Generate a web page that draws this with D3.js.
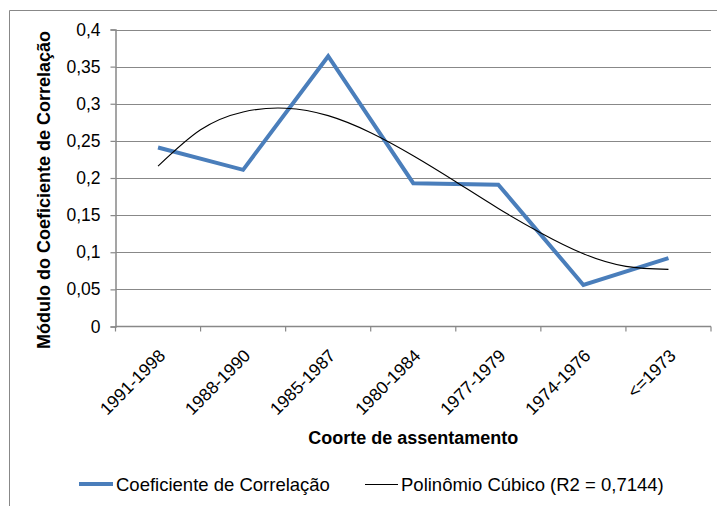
<!DOCTYPE html>
<html>
<head>
<meta charset="utf-8">
<script src="https://cdn.jsdelivr.net/npm/d3@7"></script>
<style>
  body { margin: 0; background: #fff; }
  svg { display: block; font-family: "Liberation Sans", Arial, sans-serif; }
</style>
</head>
<body>
<div id="chart"></div>
<script>
// data
const categories = ['1991-1998', '1988-1990', '1985-1987', '1980-1984', '1977-1979', '1974-1976', '<=1973'];
const coefValues = [0.241, 0.211, 0.364, 0.193, 0.191, 0.056, 0.092];

// cubic trendline at category positions (1 = first category)
const trendPos = [1, 1.5, 2, 2.5, 3, 3.5, 4, 4.5, 5, 5.5, 6, 6.5, 7];
const trendValues = [0.216, 0.265, 0.289, 0.294, 0.284, 0.261, 0.230, 0.195, 0.159, 0.126, 0.098, 0.081, 0.077];

const yTicks = [0, 0.05, 0.1, 0.15, 0.2, 0.25, 0.3, 0.35, 0.4];
const legendLabels = ['Coeficiente de Correlação', 'Polinômio Cúbico (R2 = 0,7144)'];
const yTitle = 'Módulo do Coeficiente de Correlação';
const xTitle = 'Coorte de assentamento';

const width = 717;
const height = 506;
const plot = { left: 115.5, right: 711, top: 29.5, bottom: 326.5 };
const blue = '#4a7ebb';
const grey = '#888888';

const svg = d3.select('#chart')
  .append('svg')
  .attr('width', width)
  .attr('height', height);

// outer frame (only top and left edges are visible in the crop)
svg.append('path')
  .attr('d', `M9.5,${height} V10.5 H${width}`)
  .attr('fill', 'none')
  .attr('stroke', grey)
  .attr('stroke-width', 1);

const x = d3.scaleBand()
  .domain(categories)
  .range([plot.left, plot.right]);

// continuous version of the category axis, for the trendline
const xc = d3.scaleLinear()
  .domain([0.5, categories.length + 0.5])
  .range([plot.left, plot.right]);

const y = d3.scaleLinear()
  .domain([0, 0.4])
  .range([plot.bottom, plot.top]);

const fmt = v => d3.format('.2~f')(v).replace('.', ',');

// gridlines
svg.append('g')
  .selectAll('line')
  .data(yTicks.filter(d => d > 0))
  .join('line')
  .attr('x1', plot.left)
  .attr('x2', plot.right)
  .attr('y1', d => Math.round(y(d)) + 0.5)
  .attr('y2', d => Math.round(y(d)) + 0.5)
  .attr('stroke', grey)
  .attr('stroke-width', 1.2);

// y axis
const yAxis = svg.append('g')
  .attr('transform', `translate(${plot.left},0)`)
  .call(d3.axisLeft(y).tickValues(yTicks).tickFormat(fmt).tickSize(5).tickPadding(10));
yAxis.select('.domain').attr('stroke', grey).attr('stroke-width', 1.5);
yAxis.selectAll('.tick line').attr('stroke', grey).attr('stroke-width', 1.2);
yAxis.selectAll('.tick text')
  .attr('fill', '#000')
  .style('font-size', '17.5px');

// x axis: ticks between categories
const xAxis = svg.append('g')
  .attr('transform', `translate(0,${plot.bottom})`);
xAxis.append('line')
  .attr('x1', plot.left)
  .attr('x2', plot.right)
  .attr('stroke', grey)
  .attr('stroke-width', 1.5);
xAxis.selectAll('.tickmark')
  .data(categories.map(c => x(c)).concat([plot.right]))
  .join('line')
  .attr('class', 'tickmark')
  .attr('x1', d => d)
  .attr('x2', d => d)
  .attr('y1', 0)
  .attr('y2', 5)
  .attr('stroke', grey)
  .attr('stroke-width', 1.2);
xAxis.selectAll('.ticklabel')
  .data(categories)
  .join('text')
  .attr('class', 'ticklabel')
  .attr('transform', d => `translate(${x(d) + x.bandwidth() / 2 + 4},${26}) rotate(-45)`)
  .attr('text-anchor', 'end')
  .attr('dy', '0.35em')
  .style('font-size', '17.5px')
  .text(d => d);

// axis titles
svg.append('text')
  .attr('transform', `translate(50,${(plot.top + plot.bottom) / 2 + 12}) rotate(-90)`)
  .attr('text-anchor', 'middle')
  .style('font-size', '18px')
  .style('font-weight', 'bold')
  .text(yTitle);

svg.append('text')
  .attr('x', (plot.left + plot.right) / 2)
  .attr('y', 444)
  .attr('text-anchor', 'middle')
  .style('font-size', '18px')
  .style('font-weight', 'bold')
  .text(xTitle);

// data line
const line = d3.line()
  .x((d, i) => x(categories[i]) + x.bandwidth() / 2)
  .y(d => y(d));

svg.append('path')
  .attr('d', line(coefValues))
  .attr('fill', 'none')
  .attr('stroke', blue)
  .attr('stroke-width', 4)
  .attr('stroke-linejoin', 'miter');

// trendline
const trend = d3.line()
  .curve(d3.curveNatural)
  .x((d, i) => xc(trendPos[i]))
  .y(d => y(d));

svg.append('path')
  .attr('d', trend(trendValues))
  .attr('fill', 'none')
  .attr('stroke', '#000')
  .attr('stroke-width', 1.1);

// legend
const legend = svg.append('g');
legend.append('line')
  .attr('x1', 79).attr('x2', 113)
  .attr('y1', 484).attr('y2', 484)
  .attr('stroke', blue)
  .attr('stroke-width', 4);
legend.append('text')
  .attr('x', 116).attr('y', 490.5)
  .style('font-size', '18.5px')
  .text(legendLabels[0]);
legend.append('line')
  .attr('x1', 365).attr('x2', 398)
  .attr('y1', 484.5).attr('y2', 484.5)
  .attr('stroke', '#000')
  .attr('stroke-width', 1);
legend.append('text')
  .attr('x', 401).attr('y', 490.5)
  .style('font-size', '18.5px')
  .text(legendLabels[1]);
</script>
</body>
</html>
